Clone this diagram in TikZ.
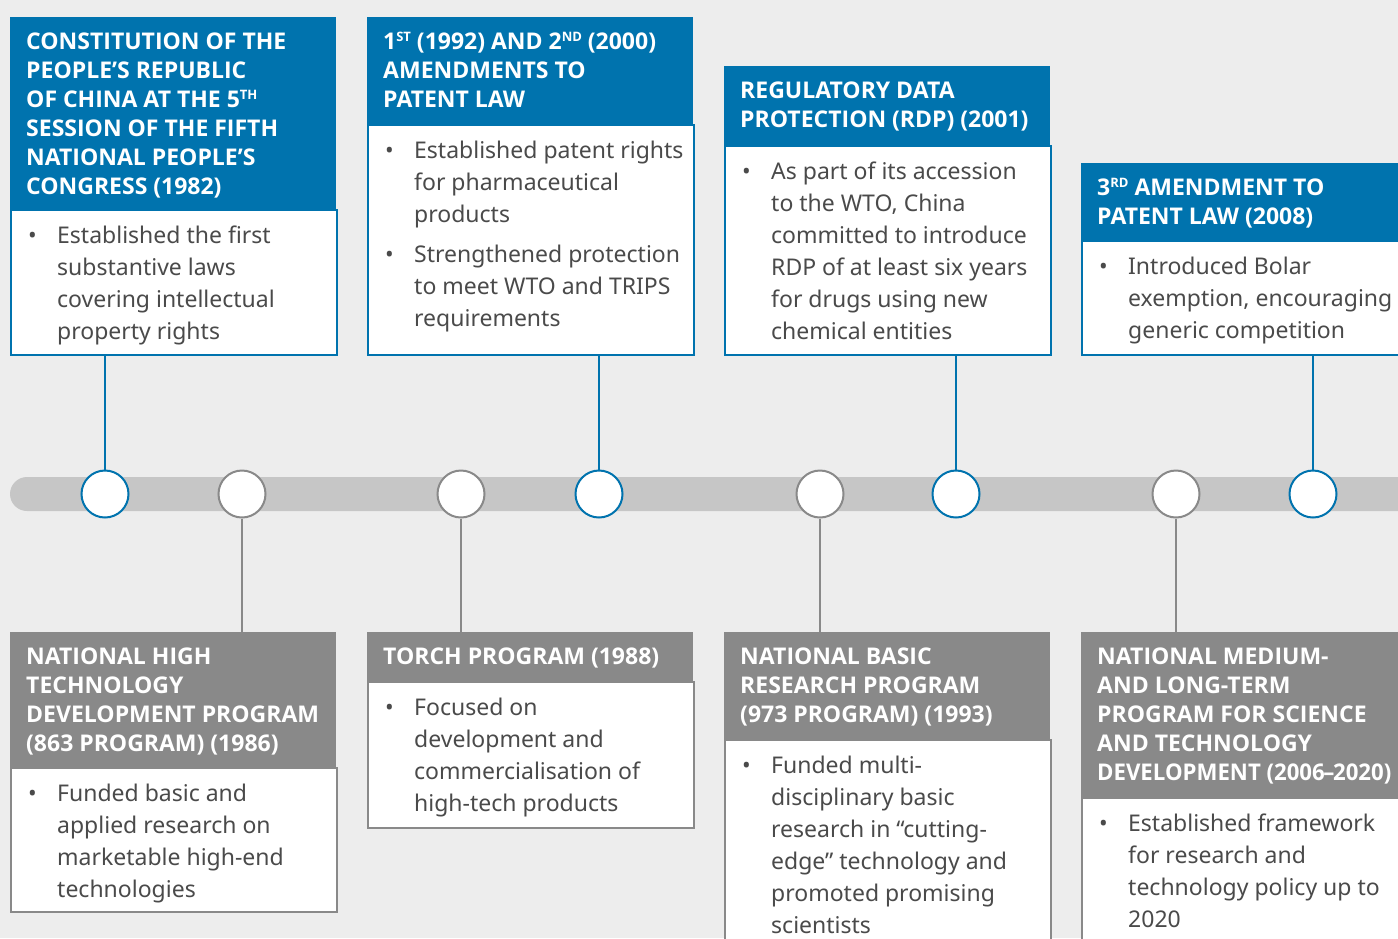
\documentclass[tikz,border=0pt]{standalone}
\usepackage{fontspec}
\usepackage{graphicx}
\setmainfont{Noto Sans}
\newfontfamily\hdrfam{Open Sans}
\definecolor{pagebg}{HTML}{EDEDED}
\definecolor{tblue}{HTML}{0073AE}
\definecolor{tgray}{HTML}{898989}
\definecolor{barcol}{HTML}{C6C6C6}
\definecolor{bodytext}{HTML}{4A4A4A}
% raised small letters (ordinal suffixes)
\newcommand\supx[1]{\smash{\raisebox{7.5pt}{\fontsize{13}{13}\selectfont #1}}}
% fixed first-line height so text sits at a set distance below a box top
\newcommand\hstrut{\rule{0pt}{20pt}}
\newcommand\blt{\rule{0pt}{22pt}\makebox[25pt][l]{\hspace*{-4pt}•}}
\newcommand\ind{\hspace*{25pt}}
\begin{document}
\begin{tikzpicture}[x=1pt,y=-1pt,
  boxbase/.style={anchor=north west, inner sep=0pt, minimum width=326pt, minimum height=#1},
  hdrblue/.style={boxbase=#1, fill=tblue},
  hdrgray/.style={boxbase=#1, fill=tgray},
  bodyblue/.style={boxbase=#1, fill=white, draw=tblue, line width=1.5pt},
  bodygray/.style={boxbase=#1, fill=white, draw=tgray, line width=1.5pt},
  hdrtext/.style={anchor=north west, inner sep=0pt, align=left, text=white,
    font=\hdrfam\fontsize{23pt}{29pt}\selectfont\bfseries},
  bodytxt/.style={anchor=north west, inner sep=0pt, align=left, text=bodytext,
    font=\fontsize{23pt}{32pt}\selectfont},
  dot/.style={circle, minimum size=47pt, inner sep=0pt, fill=white, line width=2pt},
  dotblue/.style={dot, draw=tblue},
  dotgray/.style={dot, draw=tgray},
  linkblue/.style={draw=tblue, line width=2pt},
  linkgray/.style={draw=tgray, line width=2pt}]
\useasboundingbox (0,0) rectangle (1398,938);
\clip (0,0) rectangle (1398,938);
\fill[pagebg] (0,0) rectangle (1398,938);

% timeline bar
\fill[barcol, rounded corners=17pt] (10,477) rectangle (1430,511);

% milestones on the bar
\node[dotblue] (c1) at (105,494) {};
\node[dotgray] (c2) at (242,494) {};
\node[dotgray] (c3) at (461,494) {};
\node[dotblue] (c4) at (599,494) {};
\node[dotgray] (c5) at (820,494) {};
\node[dotblue] (c6) at (956,494) {};
\node[dotgray] (c7) at (1176,494) {};
\node[dotblue] (c8) at (1313,494) {};

% upper row: patent law events
\node[hdrblue=192pt] (h1) at (10,17) {};
\node[hdrtext] (ht1) at ([xshift=16pt,yshift=-12pt]h1.north west) {\hstrut CONSTITUTION OF THE\\PEOPLE’S REPUBLIC\\OF CHINA AT THE 5\supx{TH}\\SESSION OF THE FIFTH\\NATIONAL PEOPLE’S\\CONGRESS (1982)};
\node[bodyblue=145pt] (b1) at (h1.south west) {};
\node[bodytxt] (bt1) at ([xshift=22pt,yshift=-11.5pt]b1.north west) {\blt Established the first\\\ind substantive laws\\\ind covering intellectual\\\ind property rights};

\node[hdrblue=107pt] (h4) at (367,17) {};
\node[hdrtext] (ht4) at ([xshift=16pt,yshift=-12pt]h4.north west) {\hstrut 1\supx{ST} (1992) AND 2\supx{ND} (2000)\\AMENDMENTS TO\\PATENT LAW};
\node[bodyblue=230pt] (b4) at (h4.south west) {};
\node[bodytxt] (bt4) at ([xshift=22pt,yshift=-11.5pt]b4.north west) {\blt Established patent rights\\\ind for pharmaceutical\\\ind products\\[8pt]\blt Strengthened protection\\\ind to meet WTO and TRIPS\\\ind requirements};

\node[hdrblue=79pt] (h6) at (724,66) {};
\node[hdrtext] (ht6) at ([xshift=16pt,yshift=-12pt]h6.north west) {\hstrut REGULATORY DATA\\PROTECTION (RDP) (2001)};
\node[bodyblue=209pt] (b6) at (h6.south west) {};
\node[bodytxt] (bt6) at ([xshift=22pt,yshift=-11.5pt]b6.north west) {\blt As part of its accession\\\ind to the WTO, China\\\ind committed to introduce\\\ind RDP of at least six years\\\ind for drugs using new\\\ind chemical entities};

\node[hdrblue=77pt] (h8) at (1081,163) {};
\node[hdrtext] (ht8) at ([xshift=16pt,yshift=-12pt]h8.north west) {\hstrut 3\supx{RD} AMENDMENT TO\\PATENT LAW (2008)};
\node[bodyblue=114pt] (b8) at (h8.south west) {};
\node[bodytxt] (bt8) at ([xshift=22pt,yshift=-11.5pt]b8.north west) {\blt Introduced Bolar\\\ind exemption, encouraging\\\ind generic competition};

% lower row: research programmes
\node[hdrgray=135pt] (h2) at (10,632) {};
\node[hdrtext] (ht2) at ([xshift=16pt,yshift=-12pt]h2.north west) {\hstrut NATIONAL HIGH\\TECHNOLOGY\\DEVELOPMENT PROGRAM\\(863 PROGRAM) (1986)};
\node[bodygray=144pt] (b2) at (h2.south west) {};
\node[bodytxt] (bt2) at ([xshift=22pt,yshift=-11.5pt]b2.north west) {\blt Funded basic and\\\ind applied research on\\\ind marketable high-end\\\ind technologies};

\node[hdrgray=49pt] (h3) at (367,632) {};
\node[hdrtext] (ht3) at ([xshift=16pt,yshift=-12pt]h3.north west) {\hstrut TORCH PROGRAM (1988)};
\node[bodygray=146pt] (b3) at (h3.south west) {};
\node[bodytxt] (bt3) at ([xshift=22pt,yshift=-11.5pt]b3.north west) {\blt Focused on\\\ind development and\\\ind commercialisation of\\\ind high-tech products};

\node[hdrgray=107pt] (h5) at (724,632) {};
\node[hdrtext] (ht5) at ([xshift=16pt,yshift=-12pt]h5.north west) {\hstrut NATIONAL BASIC\\RESEARCH PROGRAM\\(973 PROGRAM) (1993)};
\node[bodygray=212pt] (b5) at (h5.south west) {};
\node[bodytxt] (bt5) at ([xshift=22pt,yshift=-11.5pt]b5.north west) {\blt Funded multi-\\\ind disciplinary basic\\\ind research in “cutting-\\\ind edge” technology and\\\ind promoted promising\\\ind scientists};

\node[hdrgray=165pt] (h7) at (1081,632) {};
\node[hdrtext] (ht7) at ([xshift=16pt,yshift=-12pt]h7.north west) {\hstrut NATIONAL MEDIUM-\\AND LONG-TERM\\PROGRAM FOR SCIENCE\\AND TECHNOLOGY\\\scalebox{0.965}[1]{DEVELOPMENT (2006\kern-1.5pt–\kern-1.5pt2020)}};
\node[bodygray=148pt] (b7) at (h7.south west) {};
\node[bodytxt] (bt7) at ([xshift=22pt,yshift=-11.5pt]b7.north west) {\blt Established framework\\\ind for research and\\\ind technology policy up to\\\ind 2020};

% connectors from boxes to milestones
\draw[linkblue] (c1.north |- b1.south) -- (c1.north);
\draw[linkblue] (c4.north |- b4.south) -- (c4.north);
\draw[linkblue] (c6.north |- b6.south) -- (c6.north);
\draw[linkblue] (c8.north |- b8.south) -- (c8.north);
\draw[linkgray] (c2.south) -- (c2.south |- h2.north);
\draw[linkgray] (c3.south) -- (c3.south |- h3.north);
\draw[linkgray] (c5.south) -- (c5.south |- h5.north);
\draw[linkgray] (c7.south) -- (c7.south |- h7.north);
\end{tikzpicture}
\end{document}
